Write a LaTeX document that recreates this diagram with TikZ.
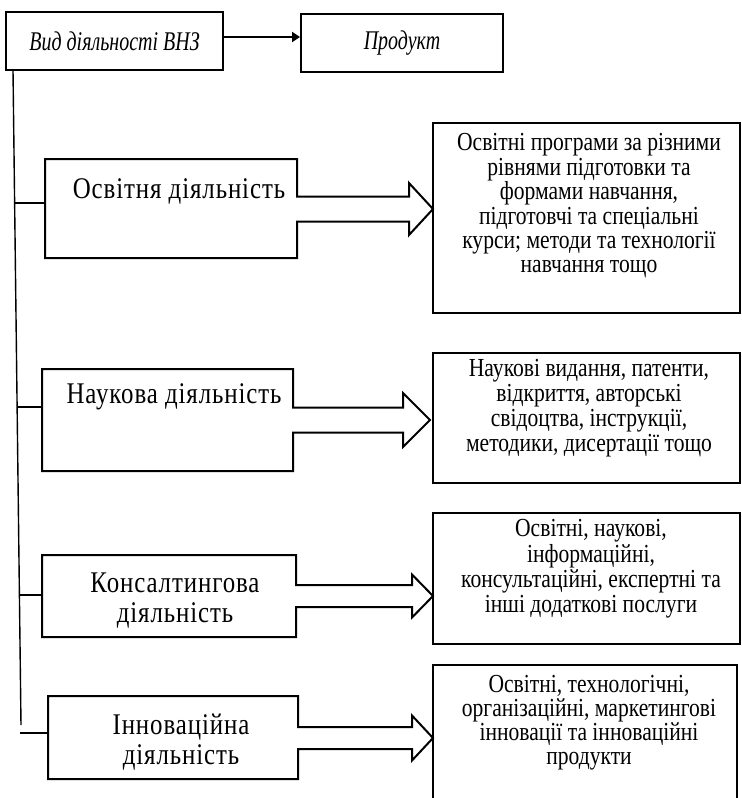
\documentclass[tikz,border=0pt]{standalone}
\usepackage{fontspec}
\setmainfont{Liberation Serif}[FakeStretch=0.83]
\newfontfamily\spacedfont{Liberation Serif}[FakeStretch=0.83,LetterSpace=3]
\newfontfamily\headfont{Liberation Serif Italic}[FakeStretch=0.74]
\usetikzlibrary{arrows.meta}

\tikzset{
  headbox/.style={draw, line width=1pt, minimum width=108.5pt, minimum height=29pt,
    inner sep=0pt, font=\headfont\fontsize{13.5}{15}\selectfont},
  prodbox/.style={draw, line width=1pt, minimum width=153.5pt, inner sep=0pt},
  prodtext/.style={align=center, inner sep=0pt},
  acttext/.style={align=center, inner sep=0pt,
    font=\spacedfont\fontsize{15}{15}\selectfont},
  actshape/.style={draw, line width=1pt, line join=miter},
  spine/.style={draw, line width=0.7pt}
}

\begin{document}
\begin{tikzpicture}[x=0.5pt, y=-0.5pt]
\useasboundingbox (0,0) rectangle (741,798);
\node[headbox] (vid) at (114.5,41) {Вид діяльності ВНЗ};
\node[headbox, minimum width=101pt] (prod) at (402,43) {Продукт};
\draw[line width=1.3pt, -{Triangle[length=4pt,width=5pt]}]
  ([yshift=2pt]vid.east) -- ([yshift=2pt]vid.east -| prod.west);
% product boxes
\node[prodbox, minimum height=95pt] (pA) at (586.5,218) {};
\node[prodbox, minimum height=65pt] (pB) at (586.5,418) {};
\node[prodbox, minimum height=65.5pt] (pC) at (586.5,578.5) {};
\node[prodbox, minimum width=152pt, minimum height=72.5pt] (pD) at (585,737.5) {};
\node[prodtext, font=\fontsize{13}{12.2}\selectfont] (tA) at (589,206)
  {Освітні програми за різними\\ рівнями підготовки та\\ формами навчання,\\
   підготовчі та спеціальні\\ курси; методи та технології\\ навчання тощо};
\node[prodtext, font=\fontsize{13}{11.3}\selectfont] (tB) at (589,408)
  {Наукові видання, патенти,\\ відкриття, авторські\\ свідоцтва, інструкції,\\
   методики, дисертації тощо};
\node[prodtext, font=\fontsize{13}{11.3}\selectfont] (tC) at (591,569)
  {Освітні, наукові,\\ інформаційні,\\ консультаційні, експертні та\\
   інші додаткові послуги};
\node[prodtext, font=\fontsize{13}{12}\selectfont] (tD) at (589,723)
  {Освітні, технологічні,\\ організаційні, маркетингові\\ інновації та інноваційні\\
   продукти};
% activity block arrows
\foreach \n/\L/\T/\R/\B/\C/\h/\H/\Base/\Tip/\sx/\sy in
  {A/45/159/297/258/209/12.5/26/409/433/15/203,
   B/42/369/293/471/420/12.5/27/403/430/17/407,
   C/42/555/296/637/596/11/21.5/412/433/19.5/595,
   D/48/696/298/779/738/11/22.5/412/433/20/733}{
  \path[actshape] (\L,\T) -- (\R,\T) -- (\R,\C-\h) -- (\Base,\C-\h)
    -- (\Base,\C-\H) -- (\Tip,\C) -- (\Base,\C+\H) -- (\Base,\C+\h)
    -- (\R,\C+\h) -- (\R,\B) -- (\L,\B) -- cycle;
  \coordinate (s\n) at (\sx,\sy);
  \coordinate (e\n) at (\L,\sy);
  \path[spine] (s\n) -- (e\n);
}
\node[acttext] (aA) at (179,191) {Освітня діяльність};
\node[acttext] (aB) at (174,397) {Наукова діяльність};
\node[acttext] (aC) at (175,601) {Консалтингова\\ діяльність};
\node[acttext] (aD) at (181,742) {Інноваційна\\ діяльність};
% spine
\coordinate (spineTop) at (13,70);
\coordinate (spineBot) at (21,725);
\path[spine] (spineTop) -- (spineBot);
\end{tikzpicture}
\end{document}
